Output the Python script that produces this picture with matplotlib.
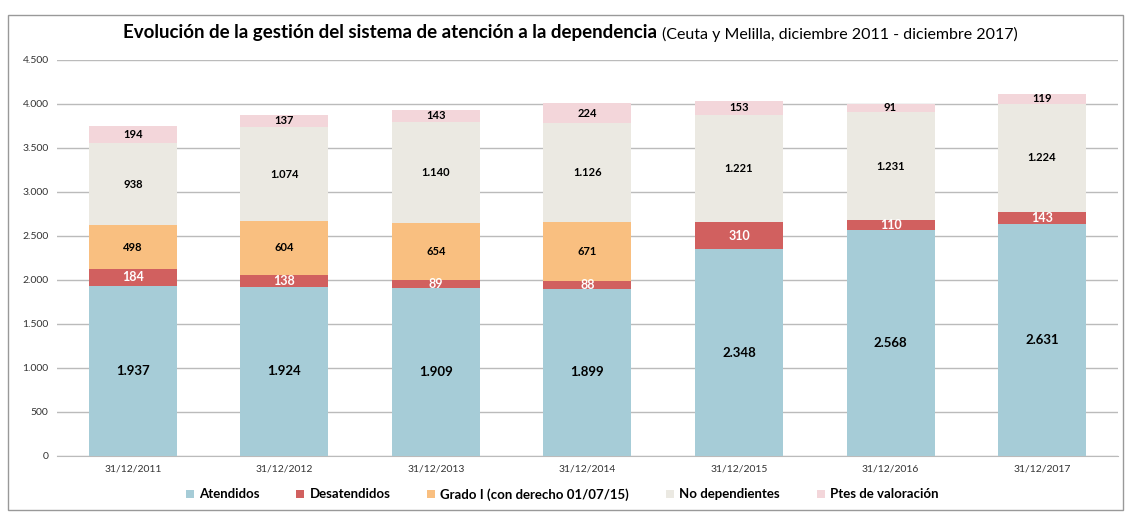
import matplotlib.pyplot as plt
import matplotlib.patches as patches
import numpy as np

plt.rcParams['font.family'] = ['Lato', 'DejaVu Sans']

fechas = ['31/12/2011', '31/12/2012', '31/12/2013', '31/12/2014',
          '31/12/2015', '31/12/2016', '31/12/2017']
atendidos = [1937, 1924, 1909, 1899, 2348, 2568, 2631]
desatendidos = [184, 138, 89, 88, 310, 110, 143]
grado_i = [498, 604, 654, 671, 0, 0, 0]
no_dependientes = [938, 1074, 1140, 1126, 1221, 1231, 1224]
ptes_valoracion = [194, 137, 143, 224, 153, 91, 119]

series = [
    ('Atendidos', atendidos, '#A6CCD7', 'black', 9.5),
    ('Desatendidos', desatendidos, '#D1605F', 'white', 9),
    ('Grado I (con derecho 01/07/15)', grado_i, '#F9BF80', 'black', 8),
    ('No dependientes', no_dependientes, '#EBE9E2', 'black', 8),
    ('Ptes de valoración', ptes_valoracion, '#F3D6DA', 'black', 8),
]


def fmt(v):
    return f'{v:,}'.replace(',', '.')


fig = plt.figure(figsize=(11.31, 5.15), dpi=100)
ax = fig.add_axes([0.0504, 0.1146, 0.938, 0.769])

x = np.arange(len(fechas))
bottom = np.zeros(len(fechas))
for name, vals, color, tcolor, fs in series:
    vals = np.array(vals)
    ax.bar(x, vals, 0.58, bottom=bottom, color=color, label=name, zorder=3)
    for xi, b, v in zip(x, bottom, vals):
        if v > 0:
            ax.text(xi, b + v / 2, fmt(v), ha='center', va='center',
                    color=tcolor, fontsize=fs, fontweight='bold', zorder=4)
    bottom += vals

ax.set_xlim(-0.5, len(fechas) - 0.5)
ax.set_ylim(0, 4500)
ax.set_yticks(range(0, 4501, 500))
ax.set_yticklabels([fmt(v) for v in range(0, 4501, 500)], fontsize=7.5, color='#333333')
ax.set_xticks(x)
ax.set_xticklabels(fechas, fontsize=7.5, color='#333333')
ax.yaxis.grid(True, color='#BBBBBB', linewidth=1, zorder=0)
ax.tick_params(axis='both', length=0, pad=6)
for s in ['top', 'right', 'left']:
    ax.spines[s].set_visible(False)
ax.spines['bottom'].set_color('#BBBBBB')

fig.text(0.581, 0.936, 'Evolución de la gestión del sistema de atención a la dependencia',
         ha='right', va='center', fontsize=13.5, fontweight='bold')
fig.text(0.585, 0.934, '(Ceuta y Melilla, diciembre 2011 - diciembre 2017)',
         ha='left', va='center', fontsize=11.5)

fig.legend(loc='lower center', bbox_to_anchor=(0.497, 0.005), ncol=5, frameon=False,
           prop={'size': 9.5, 'weight': 'bold'}, handlelength=0.6, handleheight=0.6,
           columnspacing=2.8, handletextpad=0.4)

fig.patches.append(patches.Rectangle((8 / 1131, 5 / 515), 1115 / 1131, 495 / 515,
                                     transform=fig.transFigure, fill=False,
                                     edgecolor='#999999', linewidth=1))

plt.savefig('out.png', dpi=100)
